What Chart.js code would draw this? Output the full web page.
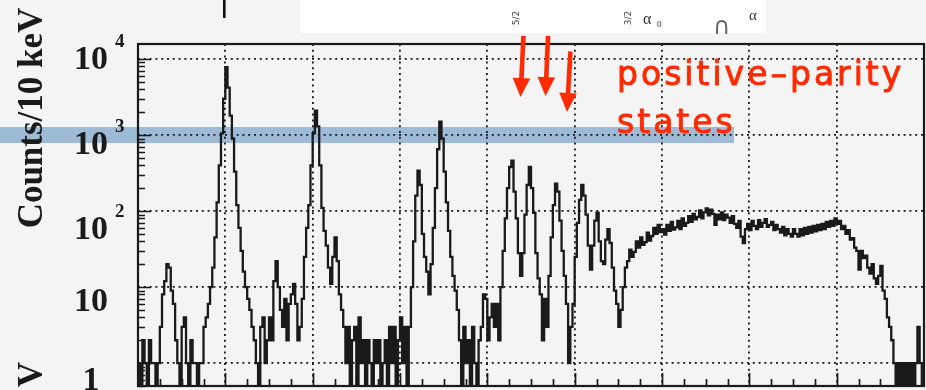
<!DOCTYPE html>
<html>
<head>
<meta charset="utf-8">
<script src="https://cdn.jsdelivr.net/npm/chart.js@4.4.1/dist/chart.umd.min.js"></script>
<style>
  html, body { margin: 0; padding: 0; background: #f4f4f4; overflow: hidden; }
  canvas { display: block; }
</style>
</head>
<body>
<canvas id="spectrum" width="926" height="390"></canvas>
<script>
// Histogram binning along the x axis (10 keV per bin)
const binStart = 0;
const binWidth = 0.025;

// Counts per bin, in four stretches of the spectrum
const countsLow = [
  1, 0, 2, 1, 0, 2, 1, 1, 0, 1,
  3, 8, 12, 20, 18, 9, 6, 2, 1, 0,
  3, 4, 1, 0, 2, 1, 1, 0, 1, 1,
  3, 4, 6, 10, 18, 45, 130, 400, 1050, 3000,
  7800, 4200, 1800, 900, 330, 120, 60, 30, 16, 10,
  7, 5, 3, 2, 1, 0, 3, 4, 1, 2,
  4, 2, 12, 22, 10, 5, 3, 7, 2, 6,
  8, 11, 6, 2, 3, 7, 25, 60, 120, 400,
  1050, 2100, 1300, 400, 110, 55, 35, 18, 11, 25
];
const countsMid = [
  45, 22, 8, 5, 3, 1, 3, 0, 2, 3,
  0, 4, 1, 2, 0, 2, 1, 0, 2, 1,
  2, 0, 1, 2, 0, 3, 1, 3, 0, 2,
  4, 1, 3, 0, 3, 10, 40, 160, 340, 220,
  50, 25, 16, 8, 20, 60, 200, 650, 1500, 900,
  330, 130, 55, 25, 14, 9, 5, 2, 0, 3,
  1, 2, 0, 3, 1, 0, 2, 3, 8, 7,
  2, 4, 6, 3, 6, 2, 10, 30, 80, 200,
  380, 460, 180, 80, 28, 14, 28, 90, 220, 380
];
const countsHigh = [
  200, 95, 28, 13, 8, 2, 7, 3, 14, 45,
  120, 230, 180, 75, 30, 14, 6, 1, 3, 6,
  25, 70, 140, 220, 160, 90, 35, 17, 35, 75,
  95, 40, 22, 20, 42, 58, 38, 18, 9, 6,
  3, 5, 10, 18, 22, 31, 25, 29, 40, 33,
  45, 36, 39, 52, 41, 47, 60, 50, 66, 53,
  58, 49, 66, 55, 72, 57, 61, 74, 58, 80,
  64, 70, 86, 72, 92, 78, 84, 102, 80, 96,
  108, 88, 104, 92, 66, 90, 78, 96, 76, 90
];
const countsTail = [
  82, 70, 86, 68, 60, 74, 46, 38, 58, 68,
  56, 74, 64, 58, 76, 62, 70, 78, 62, 66,
  72, 56, 66, 58, 52, 62, 48, 58, 50, 46,
  58, 50, 46, 58, 48, 60, 50, 62, 52, 64,
  54, 66, 56, 68, 58, 72, 62, 74, 64, 80,
  68, 74, 58, 64, 50, 56, 42, 44, 33, 30,
  17, 30, 24, 26, 18, 15, 20, 13, 11, 14,
  19, 9, 7, 4, 3, 2, 1, 0, 1, 0,
  1, 0, 1, 0, 1, 0, 1, 3, 1, 0
];

// Axis ticks
const yTickValues = [1, 10, 100, 1000, 10000];
const yTickBase = ['1', '10', '10', '10', '10'];
const yTickExp = ['', '', '2', '3', '4'];
const xGridValues = [1, 2, 3, 4, 5, 6, 7, 8];
const yTitle = 'Counts/10 keV';

// Arrows marking the positive-parity states (x, counts)
const arrowTips = [{ x: 4.380, y: 3160 }, { x: 4.666, y: 3260 }, { x: 4.912, y: 2010 }];
const arrowTails = [{ x: 4.414, y: 20100 }, { x: 4.695, y: 20100 }, { x: 4.952, y: 12550 }];
const noteLines = ['positive\u2013parity', 'states'];

// ---- build the dataset ----
const counts = [].concat(countsLow, countsMid, countsHigh, countsTail);
const EMPTY_BIN = 0.2; // empty bins fall below the axis floor and are clipped
const points = counts.map((c, i) => ({
  x: binStart + (i + 0.5) * binWidth,
  y: c > 0 ? c : EMPTY_BIN
}));

const INK = '#1a1a1a';
const RED = '#ff2a00';

const decorations = {
  id: 'decorations',
  beforeDraw(chart) {
    const { ctx, width, height, scales: { x: xs, y: ys } } = chart;
    ctx.save();
    ctx.fillStyle = '#f4f4f4';
    ctx.fillRect(0, 0, width, height);
    // highlight band along the 10^3 level
    const by = ys.getPixelForValue(1000);
    ctx.fillStyle = 'rgba(104, 152, 196, 0.62)';
    ctx.fillRect(0, by - 8, xs.getPixelForValue(6.825), 16);
    // level-scheme strip above the frame
    ctx.fillStyle = '#ffffff';
    ctx.fillRect(300, 0, 466, 33);
    ctx.restore();
  },
  afterDatasetsDraw(chart) {
    const { ctx, chartArea: a, scales: { x: xs, y: ys } } = chart;
    ctx.save();
    ctx.strokeStyle = INK;
    ctx.lineWidth = 1.7;
    ctx.beginPath();
    // inner tick marks, left axis
    for (let d = -1; d <= 4; d++) {
      for (let k = 1; k <= 9; k++) {
        const v = k * Math.pow(10, d);
        if (v < ys.min || v > ys.max) continue;
        const y = Math.round(ys.getPixelForValue(v)) + 0.5;
        const len = k === 1 ? 13 : 7;
        ctx.moveTo(a.left, y);
        ctx.lineTo(a.left + len, y);
      }
    }
    // inner tick marks, bottom axis
    for (let i = 1; i < 36; i++) {
      const x = Math.round(xs.getPixelForValue(i / 4)) + 0.5;
      const len = i % 4 === 0 ? 13 : 7;
      ctx.moveTo(x, a.bottom);
      ctx.lineTo(x, a.bottom - len);
    }
    ctx.stroke();
    // frame
    ctx.lineWidth = 2.2;
    ctx.strokeRect(a.left, a.top, a.right - a.left, a.bottom - a.top);
    ctx.restore();
  },
  afterDraw(chart) {
    const { ctx, scales: { x: xs, y: ys } } = chart;
    ctx.save();
    // y tick labels (10 with exponent)
    const labelShift = [18, 15, 19, 10, 1];
    ctx.fillStyle = INK;
    yTickValues.forEach((v, i) => {
      const cy = ys.getPixelForValue(v) + labelShift[i];
      ctx.font = 'bold 34px "Liberation Serif"';
      ctx.textAlign = 'center';
      ctx.textBaseline = 'middle';
      ctx.fillText(yTickBase[i], 91, cy);
      if (yTickExp[i]) {
        ctx.font = 'bold 19px "Liberation Serif"';
        ctx.textAlign = 'left';
        ctx.textBaseline = 'alphabetic';
        ctx.fillText(yTickExp[i], 115, cy - 13);
      }
    });
    // y axis title
    ctx.font = 'bold 35px "Liberation Serif"';
    ctx.textBaseline = 'alphabetic';
    ctx.save();
    ctx.translate(42, 118);
    ctx.rotate(-Math.PI / 2);
    ctx.textAlign = 'center';
    ctx.fillText(yTitle, 0, 0);
    ctx.restore();
    ctx.save();
    ctx.translate(42, 362);
    ctx.rotate(-Math.PI / 2);
    ctx.textAlign = 'right';
    ctx.fillText('V', 0, 0);
    ctx.restore();

    // marker stub above the frame
    ctx.fillStyle = '#111';
    ctx.fillRect(223, 0, 2.6, 18);

    // small labels in the level-scheme strip
    ctx.filter = 'blur(0.6px)';
    ctx.fillStyle = '#333';
    ctx.font = '16px "Liberation Serif"';
    ctx.textAlign = 'left';
    ctx.fillText('\u03b1', 643, 24);
    ctx.font = '9px "Liberation Serif"';
    ctx.fillText('0', 657, 27);
    ctx.font = '15px "Liberation Serif"';
    ctx.fillText('\u03b1', 749, 20);
    ctx.font = '24px "DejaVu Sans"';
    ctx.fillStyle = '#666';
    ctx.fillText('\u2229', 713, 34);
    ctx.fillStyle = '#444';
    ctx.font = '9px "DejaVu Sans"';
    [[519, 18, '5/2'], [631, 18, '3/2']].forEach(([x, y, t]) => {
      ctx.save();
      ctx.translate(x, y);
      ctx.rotate(-Math.PI / 2);
      ctx.textAlign = 'center';
      ctx.fillText(t, 0, 0);
      ctx.restore();
    });
    ctx.filter = 'none';

    // red arrows
    ctx.fillStyle = RED;
    ctx.strokeStyle = RED;
    arrowTips.forEach((tip, i) => {
      const tx = xs.getPixelForValue(tip.x), ty = ys.getPixelForValue(tip.y);
      const sx = xs.getPixelForValue(arrowTails[i].x), sy = ys.getPixelForValue(arrowTails[i].y);
      const L = Math.hypot(tx - sx, ty - sy);
      const ux = (tx - sx) / L, uy = (ty - sy) / L;
      const headLen = 19, half = 8.8;
      const bx = tx - ux * headLen, by = ty - uy * headLen;
      ctx.lineWidth = 4.6;
      ctx.lineCap = 'butt';
      ctx.beginPath();
      ctx.moveTo(sx, sy);
      ctx.lineTo(bx + ux, by + uy);
      ctx.stroke();
      ctx.beginPath();
      ctx.moveTo(tx, ty);
      ctx.lineTo(bx - uy * half, by + ux * half);
      ctx.lineTo(bx + uy * half, by - ux * half);
      ctx.closePath();
      ctx.fill();
    });

    // note text
    ctx.font = '33px "DejaVu Sans"';
    ctx.letterSpacing = '3px';
    ctx.textAlign = 'left';
    ctx.textBaseline = 'alphabetic';
    ctx.lineWidth = 0.9;
    ctx.lineJoin = 'round';
    noteLines.forEach((t, i) => {
      const y = 85 + i * 48;
      ctx.fillText(t, 617, y);
      ctx.strokeText(t, 617, y);
    });
    ctx.restore();
  }
};

new Chart(document.getElementById('spectrum'), {
  type: 'line',
  data: {
    datasets: [{
      data: points,
      borderColor: INK,
      borderWidth: 2.3,
      pointRadius: 0,
      stepped: 'middle',
      fill: false
    }]
  },
  options: {
    responsive: false,
    devicePixelRatio: 1,
    animation: false,
    events: [],
    layout: { padding: { left: 138, top: 44, right: 2, bottom: 4 } },
    plugins: { legend: { display: false }, tooltip: { enabled: false } },
    scales: {
      x: {
        type: 'linear',
        min: 0,
        max: 9,
        afterBuildTicks: s => { s.ticks = xGridValues.map(v => ({ value: v })); },
        ticks: { display: false },
        grid: { color: '#1a1a1a', lineWidth: 1.8, drawTicks: false },
        border: { display: false, dash: [2, 3.8] }
      },
      y: {
        type: 'logarithmic',
        min: 0.5,
        max: 15750,
        afterBuildTicks: s => { s.ticks = yTickValues.map(v => ({ value: v })); },
        ticks: { display: false },
        grid: { color: '#1a1a1a', lineWidth: 1.8, drawTicks: false },
        border: { display: false, dash: [2, 3.8] }
      }
    }
  },
  plugins: [decorations]
});
</script>
</body>
</html>
